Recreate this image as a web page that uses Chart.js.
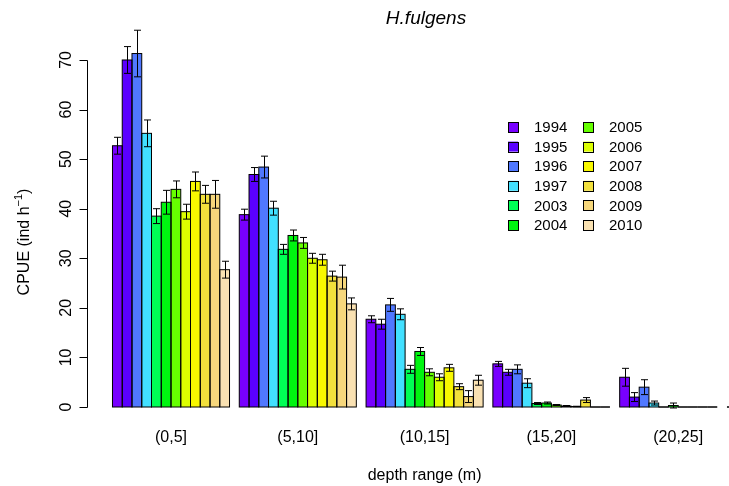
<!DOCTYPE html>
<html>
<head>
<meta charset="utf-8">
<script src="https://cdn.jsdelivr.net/npm/chart.js@4/dist/chart.umd.min.js"></script>
<style>
  html, body { margin: 0; padding: 0; background: #fff; overflow: hidden; }
  #wrap { width: 729px; height: 486px; overflow: hidden; }
</style>
</head>
<body>
<div id="wrap"><canvas id="chart" width="760" height="486"></canvas></div>
<script>
// ---------- data ----------
const depthRanges = ["(0,5]", "(5,10]", "(10,15]", "(15,20]", "(20,25]"];
const years = ["1994", "1995", "1996", "1997", "2003", "2004", "2005", "2006", "2007", "2008", "2009", "2010"];
const yearColors = ["#7800ff", "#5a00ff", "#5078ff", "#42e0ff", "#00ff55", "#00f510", "#66ff00",
                    "#dcff00", "#f8f800", "#f2e03c", "#f6d77c", "#f9e1b2"];

// mean CPUE per depth range, one value per year
const cpue0_5   = [52.7, 70.0, 71.3, 55.2, 38.5, 41.3, 43.9, 39.4, 45.5, 42.9, 42.9, 27.7];
const cpue5_10  = [38.8, 46.9, 48.4, 40.1, 31.8, 34.6, 33.1, 30.0, 29.7, 26.4, 26.2, 20.8];
const cpue10_15 = [17.7, 16.7, 20.6, 18.7, 7.6, 11.2, 7.0, 6.0, 7.9, 4.1, 2.1, 5.4];
const cpue15_20 = [8.7, 7.0, 7.6, 4.8, 0.7, 0.8, 0.4, 0.2, 0.1, 1.4, 0, 0];
const cpue20_25 = [6.0, 2.0, 4.0, 0.8, 0, 0.3, 0, 0, 0, 0, null, 0];

// standard errors, same layout
const se0_5   = [1.7, 2.7, 4.7, 2.7, 1.5, 2.4, 1.7, 1.5, 1.9, 1.8, 2.8, 1.7];
const se5_10  = [1.1, 1.4, 2.2, 1.4, 1.0, 1.1, 1.1, 1.0, 1.1, 1.0, 2.4, 1.2];
const se10_15 = [0.7, 1.0, 1.3, 1.1, 0.8, 0.8, 0.7, 0.7, 0.7, 0.6, 1.2, 1.0];
const se15_20 = [0.5, 0.6, 0.9, 0.9, 0.2, 0.2, 0.1, 0.1, 0.05, 0.5, 0, 0];
const se20_25 = [1.8, 0.9, 1.5, 0.4, 0, 0.5, 0, 0, 0, 0, 0, 0];

const yTicks = [0, 10, 20, 30, 40, 50, 60, 70];

const cpueByDepth = [cpue0_5, cpue5_10, cpue10_15, cpue15_20, cpue20_25];
const seByDepth   = [se0_5, se5_10, se10_15, se15_20, se20_25];

const FONT = "'Liberation Sans', Arial, Helvetica, sans-serif";

// ---------- bar outlines + error bars ----------
// outlines are stroked on the bar edges so neighbouring bars share one line
const errorBars = {
  id: "errorBars",
  afterDatasetsDraw(chart) {
    const { ctx, scales: { y } } = chart;
    const y0 = y.getPixelForValue(0);
    ctx.save();
    ctx.strokeStyle = "#000";
    ctx.lineWidth = 1;
    years.forEach((_, i) => {
      const meta = chart.getDatasetMeta(i);
      depthRanges.forEach((_, j) => {
        if (cpueByDepth[j][i] === null) return;
        const el = meta.data[j];
        const l = el.x - el.width / 2;
        ctx.strokeRect(l, el.y, el.width, y0 - el.y);
      });
    });
    // mean +/- se
    years.forEach((_, i) => {
      const meta = chart.getDatasetMeta(i);
      depthRanges.forEach((_, j) => {
        const v = cpueByDepth[j][i], e = seByDepth[j][i];
        if (v === null || !e) return;
        const x = Math.round(meta.data[j].x) + 0.5;
        const yt = y.getPixelForValue(v + e), yb = y.getPixelForValue(v - e);
        ctx.beginPath();
        ctx.moveTo(x, yt); ctx.lineTo(x, yb);
        ctx.moveTo(x - 3.5, yt); ctx.lineTo(x + 3.5, yt);
        ctx.moveTo(x - 3.5, yb); ctx.lineTo(x + 3.5, yb);
        ctx.stroke();
      });
    });
    ctx.restore();
  },
};

// ---------- y axis, titles, legend ----------
const decorations = {
  id: "decorations",
  afterDraw(chart) {
    const { ctx, scales: { y } } = chart;
    const axisX = 87.5;
    ctx.save();
    ctx.strokeStyle = "#000";
    ctx.fillStyle = "#000";
    ctx.lineWidth = 1;

    // y axis line and ticks
    const yTop = Math.round(y.getPixelForValue(yTicks[yTicks.length - 1])) + 0.5;
    const yBot = Math.round(y.getPixelForValue(yTicks[0])) + 0.5;
    ctx.beginPath();
    ctx.moveTo(axisX, yTop); ctx.lineTo(axisX, yBot);
    yTicks.forEach((t) => {
      const py = Math.round(y.getPixelForValue(t)) + 0.5;
      ctx.moveTo(axisX, py); ctx.lineTo(axisX - 8, py);
    });
    ctx.stroke();

    ctx.font = `16px ${FONT}`;
    ctx.textAlign = "center";
    ctx.textBaseline = "middle";
    yTicks.forEach((t) => {
      ctx.save();
      ctx.translate(67, y.getPixelForValue(t));
      ctx.rotate(-Math.PI / 2);
      ctx.fillText(String(t), 0, 0);
      ctx.restore();
    });

    // y title with superscript
    ctx.save();
    ctx.translate(25, 242);
    ctx.rotate(-Math.PI / 2);
    const main = "CPUE (ind h", sup = "\u22121", close = ")";
    ctx.font = `16px ${FONT}`;
    const wMain = ctx.measureText(main).width, wClose = ctx.measureText(close).width;
    ctx.font = `11px ${FONT}`;
    const wSup = ctx.measureText(sup).width;
    let x0 = -(wMain + wSup + wClose) / 2;
    ctx.textAlign = "left";
    ctx.font = `16px ${FONT}`;
    ctx.fillText(main, x0, 0);
    ctx.font = `11px ${FONT}`;
    ctx.fillText(sup, x0 + wMain, -6);
    ctx.font = `16px ${FONT}`;
    ctx.fillText(close, x0 + wMain + wSup, 0);
    ctx.restore();

    // main title
    ctx.font = `italic 19px ${FONT}`;
    ctx.textAlign = "center";
    ctx.fillText("H.fulgens", 426, 19);

    // legend, two columns of six
    ctx.font = `15px ${FONT}`;
    ctx.textAlign = "left";
    years.forEach((yr, i) => {
      const col = Math.floor(i / 6), row = i % 6;
      const bx = 508 + col * 75, cy = 127 + row * 19.6;
      ctx.fillStyle = yearColors[i];
      ctx.fillRect(bx, cy - 5, 10, 10);
      ctx.strokeRect(bx + 0.5, Math.round(cy - 5) + 0.5, 10, 10);
      ctx.fillStyle = "#000";
      ctx.fillText(yr, bx + 26, cy + 1);
    });
    ctx.restore();
  },
};

// ---------- chart ----------
const datasets = years.map((yr, i) => ({
  label: yr,
  data: cpueByDepth.map((d) => d[i]),
  backgroundColor: yearColors[i],
  borderWidth: 0,
  categoryPercentage: 12 / 13,
  barPercentage: 1,
}));

new Chart(document.getElementById("chart"), {
  type: "bar",
  data: { labels: depthRanges, datasets },
  plugins: [errorBars, decorations],
  options: {
    responsive: false,
    animation: false,
    devicePixelRatio: 1,
    layout: { padding: { left: 107.6, right: 18.4, top: 10.4, bottom: 0 } },
    plugins: { legend: { display: false }, tooltip: { enabled: false }, title: { display: false } },
    scales: {
      x: {
        grid: { display: false, drawTicks: false },
        border: { display: false },
        ticks: { color: "#000", font: { family: FONT, size: 16 }, padding: 21, maxRotation: 0 },
        title: { display: true, text: "depth range (m)", color: "#000", font: { family: FONT, size: 16 }, padding: { top: 0, bottom: 1 } },
        afterFit: (scale) => { scale.height = 79; },
      },
      y: {
        display: false,
        min: 0,
        max: 80,
      },
    },
  },
});
</script>
</body>
</html>
